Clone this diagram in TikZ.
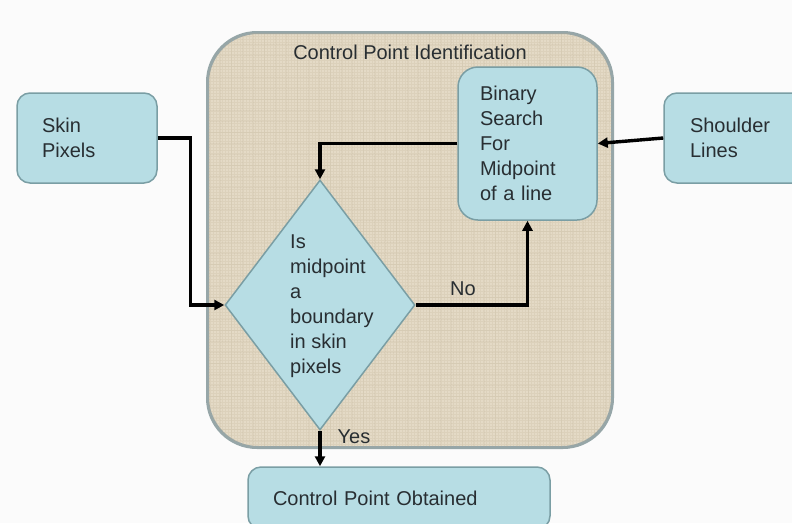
\documentclass[tikz,border=0pt]{standalone}
\usepackage{fontspec}
\setmainfont{Liberation Sans}
\usetikzlibrary{arrows.meta,shapes.geometric,calc}
\definecolor{boxfill}{RGB}{183,221,228}
\definecolor{boxline}{RGB}{122,158,164}
\definecolor{burlap}{RGB}{228,218,198}
\definecolor{burlapdark}{RGB}{185,170,142}
\definecolor{frameline}{RGB}{150,166,168}
\definecolor{ink}{RGB}{40,46,50}
\begin{document}
\begin{tikzpicture}[x=1pt,y=-1pt,
  font=\fontsize{20}{25}\selectfont, text=ink,
  box/.style={draw=boxline, fill=boxfill, line width=1.5pt, rounded corners=13pt,
    align=left, inner ysep=0pt},
  frame/.style={draw=frameline, line width=2pt, rounded corners=50pt},
  decision/.style={diamond, draw=boxline, fill=boxfill, line width=1.5pt,
    minimum width=190pt, minimum height=250pt, inner sep=0pt},
  arr/.style={draw=black, line width=3.4pt, -{Triangle[length=10pt,width=10pt]}},
  tag/.style={inner sep=0pt}]
\clip (0,0) rectangle (792,523);
\fill[gray!3] (0,0) rectangle (792,523);
\useasboundingbox (0,0) rectangle (792,523);

% burlap container
\node[frame, fill=burlap, minimum width=404pt, minimum height=414pt] (cpi) at (410,240) {};
\begin{scope}
  \clip[rounded corners=50pt] (cpi.north west) rectangle (cpi.south east);
  \draw[burlapdark, opacity=0.18, line width=0.5pt, step=3pt] (cpi.north west) grid (cpi.south east);
  \draw[burlapdark, opacity=0.15, line width=0.8pt, step=11pt] ($(cpi.north west)+(1,1)$) grid (cpi.south east);
\end{scope}
\draw[frame] (cpi.north west) rectangle (cpi.south east);
\node[tag] (cpititle) at (410,52) {Control Point Identification};

% process boxes
\node[box, minimum width=140pt, minimum height=90pt, text width=90pt, inner xsep=25pt] (sp) at (87,138) {Skin\\Pixels};
\node[box, minimum width=150pt, minimum height=90pt, text width=98pt, inner xsep=26pt] (sl) at (739,138) {Shoulder\\Lines};
\node[box, rounded corners=20pt, minimum width=139pt, minimum height=153pt, text width=95pt, inner xsep=22pt] (bs) at (527.5,143.5) {Binary\\Search\\For\\Midpoint\\of a line};
\node[box, minimum width=302pt, minimum height=62pt, text width=252pt, inner xsep=25pt] (cpo) at (399,498) {Control Point Obtained};

% decision
\node[decision] (dia) at (320,305) {};
\node[tag, align=left, anchor=west] (diatext) at (290,306) {Is\\midpoint\\a\\boundary\\in skin\\pixels};

% connectors
\draw[arr] (sp.east) -- ++(33,0) |- (dia.west);
\draw[arr] (bs.west) -| (dia.north);
\draw[arr] (dia.east) -| (bs.south);
\draw[arr] (sl.west) -- (bs.east);
\draw[arr] (dia.south) -- (dia.south |- cpo.north);

% branch labels
\node[tag] (nolbl) at (463,289) {No};
\node[tag] (yeslbl) at (354,437) {Yes};
\end{tikzpicture}
\end{document}
